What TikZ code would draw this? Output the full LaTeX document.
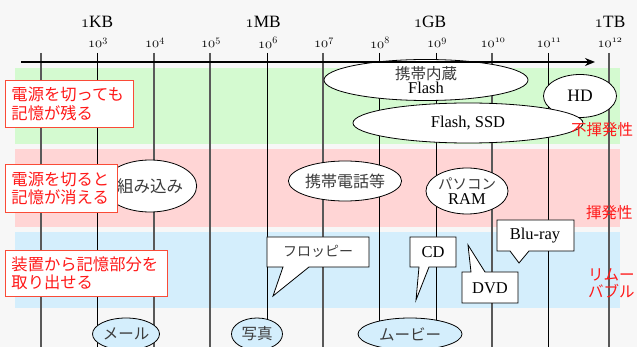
\documentclass[tikz,border=0pt]{standalone}
\usepackage{fontspec}
\setmainfont{Liberation Serif}
\newfontfamily\jp{Noto Sans CJK JP}
\usetikzlibrary{shapes.geometric,arrows.meta}
\definecolor{bandG}{RGB}{212,250,208}
\definecolor{bandR}{RGB}{255,213,213}
\definecolor{bandB}{RGB}{212,238,252}
\definecolor{redT}{RGB}{255,25,25}
\definecolor{redB}{RGB}{250,75,55}
\definecolor{bgc}{RGB}{247,247,247}
\definecolor{jpgray}{RGB}{60,60,60}
\newcommand\osn[1]{\ensuremath{\mathnormal{#1}}}
\begin{document}
\begin{tikzpicture}[x=1pt,y=-1pt,
  gridA/.style={draw=black,line width=0.8pt},
  gridB/.style={draw=black!65,line width=1.3pt},
  axisline/.style={draw=black,line width=2pt,-{Stealth[length=10pt,width=8pt]}},
  ell/.style={draw=black,line width=0.8pt,ellipse,fill=white,inner sep=0pt,align=center},
  ellb/.style={ell,fill=bandB},
  lat/.style={font=\fontsize{16.5}{19}\selectfont},
  jpt/.style={font=\jp\fontsize{15.5}{18}\selectfont,text=jpgray},
  toplab/.style={font=\fontsize{17.28}{20}\selectfont,inner sep=0pt},
  explab/.style={font=\fontsize{14.4}{17}\selectfont,inner sep=0pt},
  redbox/.style={draw=redB,line width=1pt,fill=white,text=redT,font=\jp\fontsize{16.3}{18.5}\selectfont,align=left,anchor=north west,inner xsep=6pt,inner ysep=0pt},
  redlab/.style={text=redT,font=\jp\fontsize{15.5}{17.5}\selectfont,inner sep=0pt,align=left},
  callout/.style={draw=black,line width=0.8pt,fill=white,line join=miter}
]
\useasboundingbox (0,0) rectangle (637,347);
\fill[bgc] (0,0) rectangle (637,347);
% bands
\fill[bandG] (15,68) rectangle (620,144);
\fill[bandR] (15,149) rectangle (620,227);
\fill[bandB] (15,232) rectangle (620,308);
% grid lines
\foreach \x/\s in {41/B,97/A,154/B,210/B,267/A,323/B,379/A,436/A,492/B,548/A,609/B}
  \draw[grid\s] (\x,53) -- (\x,347);
% top labels
\node[toplab] (kb) at (97,22) {\osn{1}KB};
\node[toplab] (mb) at (263,22) {\osn{1}MB};
\node[toplab] (gb) at (430,22) {\osn{1}GB};
\node[toplab] (tb) at (610,22) {\osn{1}TB};
\foreach \x/\e in {97/3,154/4,210/5,267/6,323/7,379/8,436/9,492/10,548/11,609/12}
  \node[explab] (e\e) at (\x+1,43) {\osn{10}$^{\osn{\e}}$};
% ellipses
\node[ell,minimum width=204pt,minimum height=41pt] (flashA) at (426,80)
  {{\jp\fontsize{15.5}{18}\selectfont\color{jpgray}携帯内蔵}\\[0pt]{\fontsize{16.5}{19}\selectfont Flash}};
\node[ell,minimum width=73pt,minimum height=43pt,lat,font=\fontsize{17.5}{20}\selectfont] (hd) at (580,96) {HD};
\node[ell,minimum width=230pt,minimum height=40pt,lat] (ssd) at (468,123) {Flash, SSD};
\node[ell,minimum width=70pt,minimum height=52pt,jpt,font=\jp\fontsize{16.5}{18}\selectfont] (kumi) at (150,186) {組み込み};
\node[ell,minimum width=111pt,minimum height=40pt,jpt,font=\jp\fontsize{16}{18}\selectfont] (keitai) at (345,181) {携帯電話等};
\node[ell,minimum width=60pt,minimum height=46pt] (pc) at (467,191)
  {{\jp\fontsize{14.5}{16}\selectfont\color{jpgray}パソコン}\\[3pt]{\fontsize{16.5}{19}\selectfont RAM}};
\node[ellb,minimum width=67pt,minimum height=32pt,jpt] (mail) at (126,334) {メール};
\node[ellb,minimum width=51pt,minimum height=32pt,jpt] (photo) at (257,334) {写真};
\node[ellb,minimum width=104pt,minimum height=32pt,jpt] (movie) at (410,334) {ムービー};
% callouts
\draw[callout] (267,237) -- (369,237) -- (369,267) -- (309,267) -- (273,296) -- (283,267) -- (267,267) -- cycle;
\node[jpt,font=\jp\fontsize{14}{16}\selectfont] (floppy) at (318,251) {フロッピー};
\draw[callout] (410,237) -- (456,237) -- (456,267) -- (429,267) -- (416,300) -- (419,267) -- (410,267) -- cycle;
\node[lat] (cd) at (433,252) {CD};
\draw[callout] (497,220) -- (574,220) -- (574,251) -- (529,251) -- (519,263) -- (510,251) -- (497,251) -- cycle;
\node[lat] (bluray) at (535,236) {Blu-ray};
\draw[callout] (462,272) -- (471,272) -- (468,245) -- (485,272) -- (518,272) -- (518,303) -- (462,303) -- cycle;
\node[lat] (dvd) at (490,288) {DVD};
% red boxes
\node[redbox,minimum width=128pt,minimum height=47pt,text width=116pt] (nv) at (5,80) {電源を切っても\\記憶が残る};
\node[redbox,minimum width=112pt,minimum height=48pt,text width=100pt] (vo) at (5,164) {電源を切ると\\記憶が消える};
\node[redbox,minimum width=162pt,minimum height=46pt,text width=150pt] (rm) at (5,250) {装置から記憶部分を\\取り出せる};
% red side labels
\node[redlab,anchor=west] (lnv) at (571,130) {不揮発性};
\node[redlab,anchor=west] (lvo) at (586,213) {揮発性};
\node[redlab,anchor=north west] (lrm) at (588,268) {リムー\\バブル};
% axis
\draw[axisline] (21,62) -- (595,62);
\end{tikzpicture}
\end{document}
